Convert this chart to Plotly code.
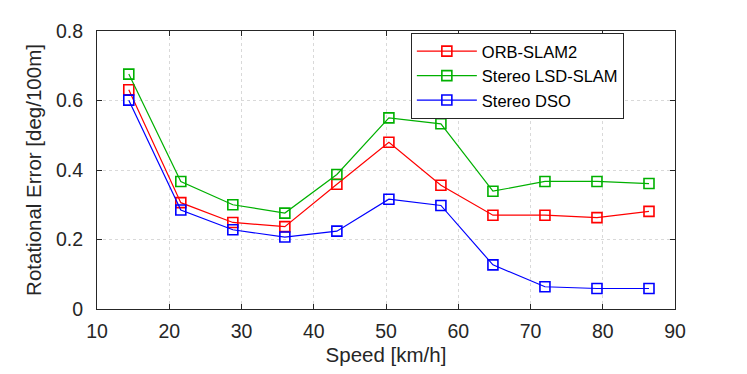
import plotly.graph_objects as go

speed = [14.4, 21.6, 28.8, 36.0, 43.2, 50.4, 57.6, 64.8, 72.0, 79.2, 86.4]
orb_slam2 = [0.631, 0.306, 0.249, 0.237, 0.359, 0.480, 0.356, 0.270, 0.270, 0.263, 0.281]
stereo_lsd = [0.676, 0.367, 0.300, 0.276, 0.387, 0.550, 0.533, 0.339, 0.367, 0.367, 0.361]
stereo_dso = [0.601, 0.285, 0.228, 0.207, 0.224, 0.316, 0.298, 0.127, 0.064, 0.059, 0.059]

x_ticks = [10, 20, 30, 40, 50, 60, 70, 80, 90]
y_ticks = [0, 0.2, 0.4, 0.6, 0.8]
y_tick_labels = ["0", "0.2", "0.4", "0.6", "0.8"]

series = [
    ("ORB-SLAM2", orb_slam2, "#ff0000"),
    ("Stereo LSD-SLAM", stereo_lsd, "#00b000"),
    ("Stereo DSO", stereo_dso, "#0000ff"),
]

FONT = "Liberation Sans, Arial, Helvetica, sans-serif"

fig = go.Figure()
for name, vals, col in series:
    fig.add_trace(go.Scatter(
        x=speed, y=vals, name=name, mode="lines+markers",
        line=dict(color=col, width=1.2),
        marker=dict(symbol="square-open", size=10, color=col, line=dict(width=1.6, color=col)),
    ))

axis_common = dict(
    showline=True, linecolor="#262626", linewidth=1, mirror="ticks",
    ticks="inside", ticklen=5, tickcolor="#262626",
    showgrid=True, gridcolor="#d9d9d9", griddash="dot", gridwidth=1,
    zeroline=False,
    tickfont=dict(family=FONT, size=19.5, color="#262626"),
    title_font=dict(family=FONT, size=20.5, color="#262626"),
)

fig.update_layout(
    width=747, height=374,
    margin=dict(l=89, r=80, t=19, b=73),
    paper_bgcolor="white", plot_bgcolor="white",
    font=dict(family=FONT, color="#262626"),
    xaxis=dict(range=[10, 90], tickvals=x_ticks, ticklabelstandoff=5,
               title=dict(text="Speed [km/h]", standoff=6), **axis_common),
    yaxis=dict(range=[0, 0.8], tickvals=y_ticks, ticktext=y_tick_labels,
               ticklabelstandoff=9,
               title=dict(text="Rotational Error [deg/100m]", standoff=8), **axis_common),
    legend=dict(x=0.543, y=0.993, xanchor="left", yanchor="top",
                bgcolor="white", bordercolor="#262626", borderwidth=1,
                font=dict(family=FONT, size=16.5, color="#000000"),
                itemwidth=60, tracegroupgap=0),
    showlegend=True,
)

fig.write_html("out.html")
